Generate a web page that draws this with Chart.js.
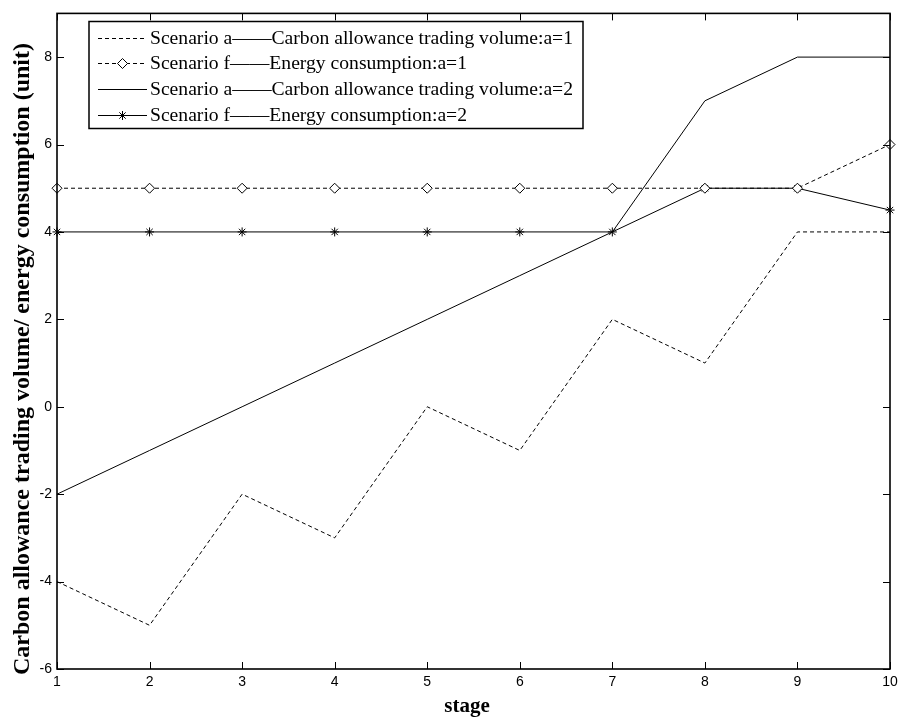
<!DOCTYPE html>
<html><head><meta charset="utf-8">
<script src="https://cdn.jsdelivr.net/npm/chart.js@4.4.1/dist/chart.umd.min.js"></script>
<style>html,body{margin:0;padding:0;background:#fff}#wrap{width:905px;height:725px}</style>
</head><body><div id="wrap"><canvas id="c" width="905" height="725"></canvas></div>
<script>
const stages = ['1','2','3','4','5','6','7','8','9','10'];
const tradingA1 = [-4,-5,-2,-3,0,-1,2,1,4,4];
const energyA1 = [5,5,5,5,5,5,5,5,5,6];
const tradingA2 = [-2,-1,0,1,2,3,4,7,8,8];
const energyA2 = [4,4,4,4,4,4,4,5,5,4.5];
const legendLabels = [
 'Scenario a\u2014\u2014Carbon allowance trading volume:a=1',
 'Scenario f\u2014\u2014Energy consumption:a=1',
 'Scenario a\u2014\u2014Carbon allowance trading volume:a=2',
 'Scenario f\u2014\u2014Energy consumption:a=2'
];
const yTitle = 'Carbon allowance trading volume/ energy consumption (unit)';
const xTitle = 'stage';

const dash = [4,3];
const datasets = [
 {label: legendLabels[0], data: tradingA1, borderColor:'#000', borderWidth:1, borderDash:dash, pointRadius:0, fill:false},
 {label: legendLabels[1], data: energyA1, borderColor:'#000', borderWidth:1, borderDash:dash, pointStyle:'rectRot', pointRadius:5, pointBackgroundColor:'#fff', pointBorderColor:'#000', pointBorderWidth:1, fill:false},
 {label: legendLabels[2], data: tradingA2, borderColor:'#000', borderWidth:1, pointRadius:0, fill:false},
 {label: legendLabels[3], data: energyA2, borderColor:'#000', borderWidth:1, pointStyle:'star', pointRadius:4.5, pointBackgroundColor:'#000', pointBorderColor:'#000', pointBorderWidth:1, fill:false}
];

const frame = {
 id:'frame',
 afterDraw(chart){
  const ctx = chart.ctx, a = chart.chartArea;
  const xs = chart.scales.x, ys = chart.scales.y;
  ctx.save();
  ctx.strokeStyle = '#000'; ctx.lineWidth = 1.6; ctx.setLineDash([]);
  ctx.strokeRect(a.left, a.top, a.right-a.left, a.bottom-a.top);
  ctx.lineWidth = 1;
  const tl = 7;
  xs.ticks.forEach((t,i)=>{
   const px = Math.round(xs.getPixelForTick(i))+0.5;
   ctx.beginPath(); ctx.moveTo(px,a.bottom); ctx.lineTo(px,a.bottom-tl);
   ctx.moveTo(px,a.top); ctx.lineTo(px,a.top+tl); ctx.stroke();
  });
  ys.ticks.forEach((t)=>{
   const py = Math.round(ys.getPixelForValue(t.value))+0.5;
   ctx.beginPath(); ctx.moveTo(a.left,py); ctx.lineTo(a.left+tl,py);
   ctx.moveTo(a.right,py); ctx.lineTo(a.right-tl,py); ctx.stroke();
  });
  // axis titles
  ctx.fillStyle = '#000';
  ctx.font = 'bold 24px "Liberation Serif", "Times New Roman", serif';
  ctx.textAlign = 'center'; ctx.textBaseline = 'alphabetic';
  ctx.save(); ctx.translate(29, 359); ctx.rotate(-Math.PI/2);
  ctx.fillText(yTitle, 0, 0); ctx.restore();
  ctx.font = 'bold 21px "Liberation Serif", "Times New Roman", serif';
  ctx.fillText(xTitle, 467, 712);
  // legend
  const lx = 89, ly = 21.5, lw = 494, lh = 107;
  ctx.fillStyle = '#fff'; ctx.fillRect(lx,ly,lw,lh);
  ctx.lineWidth = 1.5; ctx.strokeRect(lx,ly,lw,lh);
  ctx.font = '19px "Liberation Serif", "Times New Roman", serif';
  ctx.textBaseline = 'middle'; ctx.textAlign = 'left';
  const rows = [38, 63, 89, 115];
  const w0 = ctx.measureText(datasets[0].label).width;
  const sx = 423 / w0;
  datasets.forEach((ds,i)=>{
   const y = rows[i];
   ctx.lineWidth = 1; ctx.strokeStyle = '#000';
   ctx.setLineDash(ds.borderDash || []);
   ctx.beginPath(); ctx.moveTo(98,y+0.5); ctx.lineTo(147,y+0.5); ctx.stroke();
   ctx.setLineDash([]);
   if (ds.pointRadius) {
    ctx.fillStyle = ds.pointBackgroundColor;
    Chart.helpers.drawPoint(ctx, {pointStyle: ds.pointStyle, radius: ds.pointRadius, borderWidth:1}, 122.5, y+0.5);
   }
   ctx.fillStyle = '#000';
   ctx.save(); ctx.translate(150, y+1); ctx.scale(sx,1);
   ctx.fillText(ds.label, 0, 0); ctx.restore();
  });
  ctx.restore();
 }
};

new Chart(document.getElementById('c'), {
 type:'line',
 data:{labels: stages, datasets},
 plugins:[frame],
 options:{
  responsive:false, animation:false,
  layout:{padding:{top:7,right:15,left:0,bottom:0}},
  plugins:{legend:{display:false}, tooltip:{enabled:false}},
  elements:{line:{tension:0}},
  scales:{
   x:{
    offset:false,
    grid:{display:false, drawTicks:false},
    border:{display:false},
    ticks:{color:'#000', font:{family:'"Liberation Sans", Arial, sans-serif', size:14}, padding:5, maxRotation:0, autoSkip:false},
    afterFit(s){ s.height = 56; }
   },
   y:{
    min:-6, max:9,
    grid:{display:false, drawTicks:false},
    border:{display:false},
    ticks:{stepSize:2, includeBounds:false, color:'#000', font:{family:'"Liberation Sans", Arial, sans-serif', size:14}, padding:5},
    afterFit(s){ s.width = 57; }
   }
  }
 }
});
</script></body></html>
